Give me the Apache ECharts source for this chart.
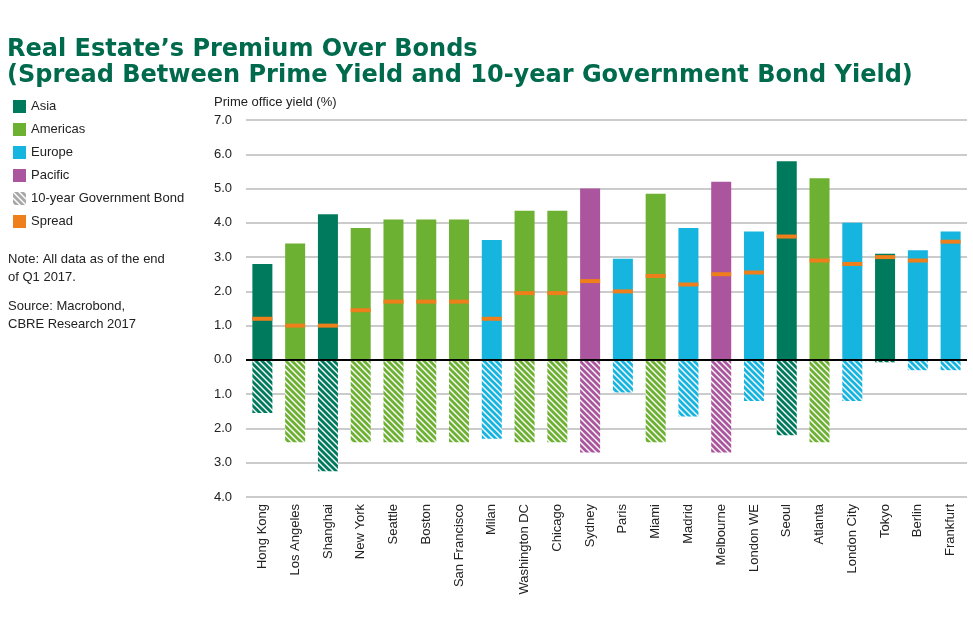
<!DOCTYPE html>
<html>
<head>
<meta charset="utf-8">
<script src="https://cdn.jsdelivr.net/npm/echarts@6/dist/echarts.min.js"></script>
<style>
html,body{margin:0;padding:0;background:#fff;}
#chart{width:973px;height:630px;}
</style>
</head>
<body>
<div id="chart"></div>
<script>
const cities = ['Hong Kong','Los Angeles','Shanghai','New York','Seattle','Boston','San Francisco','Milan','Washington DC','Chicago','Sydney','Paris','Miami','Madrid','Melbourne','London WE','Seoul','Atlanta','London City','Tokyo','Berlin','Frankfurt'];
const regions = ['Asia','Americas','Asia','Americas','Americas','Americas','Americas','Europe','Americas','Americas','Pacific','Europe','Americas','Europe','Pacific','Europe','Asia','Americas','Europe','Asia','Europe','Europe'];
const primeYield = [2.8,3.4,4.25,3.85,4.1,4.1,4.1,3.5,4.35,4.35,5.0,2.95,4.85,3.85,5.2,3.75,5.8,5.3,4.0,3.1,3.2,3.75];
const bondYield = [1.55,2.4,3.25,2.4,2.4,2.4,2.4,2.3,2.4,2.4,2.7,0.95,2.4,1.65,2.7,1.2,2.2,2.4,1.2,0.07,0.3,0.3];
const spread = [1.2,1.0,1.0,1.45,1.7,1.7,1.7,1.2,1.95,1.95,2.3,2.0,2.45,2.2,2.5,2.55,3.6,2.9,2.8,3.0,2.9,3.45];
const regionNames = ['Asia','Americas','Europe','Pacific'];

const regionColors = {Asia:'#007A5C', Americas:'#6DB132', Europe:'#16B5E0', Pacific:'#AA559E'};
const spreadColor = '#EE7F1A';
const FONT = '"Liberation Sans", Arial, sans-serif';

function makeHatch(color){
  const p = 6;
  const c = document.createElement('canvas');
  c.width = p; c.height = p;
  const ctx = c.getContext('2d');
  ctx.fillStyle = color; ctx.fillRect(0,0,p,p);
  ctx.strokeStyle = '#ffffff'; ctx.lineWidth = 1.4;
  ctx.beginPath();
  ctx.moveTo(-1,-1); ctx.lineTo(p+1,p+1);
  ctx.moveTo(-1,p-1); ctx.lineTo(1,p+1);
  ctx.moveTo(p-1,-1); ctx.lineTo(p+1,1);
  ctx.stroke();
  return {image:c, repeat:'repeat'};
}

const series = [];
regionNames.forEach(r => {
  series.push({
    name: r, type: 'bar', stack: 'all', barWidth: 20,
    itemStyle: {color: regionColors[r]},
    data: cities.map((c,i) => regions[i] === r ? primeYield[i] : '-')
  });
});
series.push({
  name: '10-year Government Bond', type: 'bar', stack: 'all', barWidth: 20,
  itemStyle: {color: makeHatch('#A8A8A8')},
  data: cities.map((c,i) => ({value: -bondYield[i], itemStyle:{color: makeHatch(regionColors[regions[i]])}})),
  markLine: {
    silent: true, symbol: 'none', label:{show:false},
    lineStyle: {color:'#000', width:2, type:'solid'},
    data: [{yAxis: 0}]
  }
});
series.push({
  name: 'Spread', type: 'scatter', symbol: 'rect', symbolSize: [20,4], z: 5,
  itemStyle: {color: spreadColor, opacity: 1},
  data: spread
});

const chart = echarts.init(document.getElementById('chart'), null, {renderer:'canvas'});
chart.setOption({
  animation: false,
  backgroundColor: '#fff',
  textStyle: {fontFamily: FONT},
  grid: {left: 246, right: 6, top: 120, bottom: 133},
  legend: {
    orient: 'vertical', left: 8, top: 95, itemWidth: 13, itemHeight: 13, itemGap: 10,
    textStyle: {fontSize: 13, color: '#222', fontFamily: FONT},
    data: regionNames.concat(['10-year Government Bond','Spread']).map(n => ({name:n, icon:'rect'}))
  },
  xAxis: {
    type: 'category', data: cities,
    axisLine: {show:false, onZero:false}, axisTick: {show:false},
    axisLabel: {rotate: 90, interval: 0, fontSize: 13, color: '#222', margin: 7, fontFamily: FONT}
  },
  yAxis: {
    type: 'value', min: -4, max: 7, interval: 1,
    axisLine: {show:false}, axisTick: {show:false},
    splitLine: {lineStyle: {color:'#CBCBCB', width: 2}},
    axisLabel: {fontSize: 13, color: '#222', margin: 14, fontFamily: FONT,
      formatter: v => Math.abs(v).toFixed(1)}
  },
  graphic: [
    {type:'text', left: 7, top: 37, style:{text:"Real Estate’s Premium Over Bonds\n(Spread Between Prime Yield and 10-year Government Bond Yield)", font:'bold 24px "DejaVu Sans", sans-serif', fill:'#006A4D', lineHeight: 26}},
    {type:'text', left: 214, top: 96, style:{text:'Prime office yield (%)', font:'13px ' + FONT, fill:'#222'}},
    {type:'text', left: 8, top: 250, style:{text:'Note: All data as of the end\nof Q1 2017.', font:'13px ' + FONT, fill:'#222', lineHeight: 18}},
    {type:'text', left: 8, top: 297, style:{text:'Source: Macrobond,\nCBRE Research 2017', font:'13px ' + FONT, fill:'#222', lineHeight: 18}}
  ],
  series: series
});
</script>
</body>
</html>
